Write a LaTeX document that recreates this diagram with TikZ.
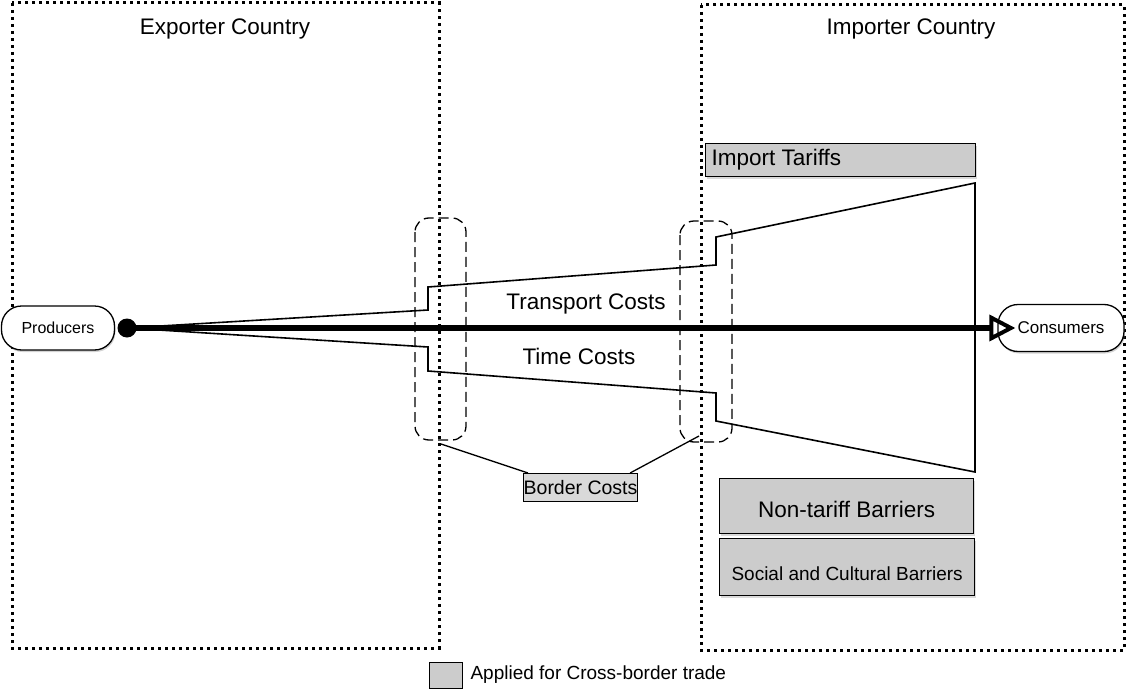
\documentclass[tikz,border=0pt]{standalone}
\usepackage{fontspec}
\setmainfont{Liberation Sans}
\usetikzlibrary{arrows.meta,shadows}
\definecolor{boxgray}{HTML}{CCCCCC}
\definecolor{lightgray2}{HTML}{D9D9D9}
\tikzset{
  country/.style={draw, line width=3pt, dash pattern=on 3pt off 4pt},
  ovalzone/.style={draw, line width=1.3pt, dash pattern=on 10pt off 5pt, rounded corners=14pt},
  endpoint/.style={draw, line width=1.3pt, rounded corners=20pt, fill=white,
    drop shadow={opacity=0.35, shadow xshift=1pt, shadow yshift=-2pt}},
  graybox/.style={draw, line width=1.3pt, fill=boxgray,
    drop shadow={opacity=0.3, shadow xshift=1pt, shadow yshift=-2pt}},
  funnel/.style={draw, line width=1.6pt},
  lbl/.style={font=\fontsize{22.5}{25}\selectfont}
}
\begin{document}
\begin{tikzpicture}[x=1pt,y=-1pt]
\useasboundingbox (0,0) rectangle (1129,690);
% countries
\draw[country] (12,3) rectangle (439,648);
\draw[country] (701,5) rectangle (1124,650);
\node[lbl] (exp) at (225,29) {Exporter Country};
\node[lbl] (imp) at (911,29) {Importer Country};
% gray boxes
\node[graybox, minimum width=270pt, minimum height=33pt, anchor=north west] (tariff) at (705,143) {};
\node[lbl, anchor=west] at (708,160) {Import Tariffs};
\node[graybox, minimum width=254pt, minimum height=55pt, anchor=north west] (ntb) at (719,478) {};
\node[lbl] at ([yshift=-3pt]ntb.center) {Non-tariff Barriers};
\node[graybox, minimum width=255pt, minimum height=57pt, anchor=north west] (scb) at (719,538) {};
\node[font=\fontsize{19}{21}\selectfont] at ([yshift=-7pt]scb.center) {Social and Cultural Barriers};
% funnel
\coordinate (o) at (127,328);
\draw[funnel] (o) -- (428,310) -- (428,287) -- (716,265) -- (716,237) -- (975,183) -- (975,472)
  -- (716,421) -- (716,393) -- (428,371) -- (428,347) -- cycle;
% border zones
\draw[ovalzone] (415,218) rectangle (466,440);
\draw[ovalzone] (680,221) rectangle (732,442);
% border costs
\node[draw, line width=1.3pt, fill=lightgray2, minimum width=113pt, minimum height=28pt, inner sep=0pt, anchor=north west, font=\fontsize{19.5}{21}\selectfont] (bc) at (523,473) {Border Costs};
\coordinate (lz) at (441,444);
\coordinate (rz) at (699,436);
\draw[line width=1.3pt] (lz) -- ([xshift=5pt]bc.north west);
\draw[line width=1.3pt] (rz) -- ([xshift=-8pt]bc.north east);
% labels
\node[lbl] (tc) at (586,304) {Transport Costs};
\node[lbl] (tm) at (579,356) {Time Costs};
% producers and consumers
\node[endpoint, minimum width=113pt, minimum height=44pt, font=\fontsize{16}{18}\selectfont] (prod) at (58,328) {Producers};
\node[endpoint, minimum width=126pt, minimum height=47pt, font=\fontsize{17}{19}\selectfont] (cons) at (1061,328) {Consumers};
\node[circle, fill=black, minimum size=19pt, inner sep=0pt] (dot) at (o) {};
\draw[line width=6pt, -{Triangle[open, length=26pt, width=26pt, line width=4pt]}] (dot.center) -- ([xshift=18pt]cons.west);
% legend
\node[draw, line width=1.3pt, fill=boxgray, minimum width=33pt, minimum height=26pt, anchor=north west] (leg) at (429,662) {};
\node[anchor=west, font=\fontsize{19}{21}\selectfont] (legt) at (467,675) {Applied for Cross-border trade};
\end{tikzpicture}
\end{document}
